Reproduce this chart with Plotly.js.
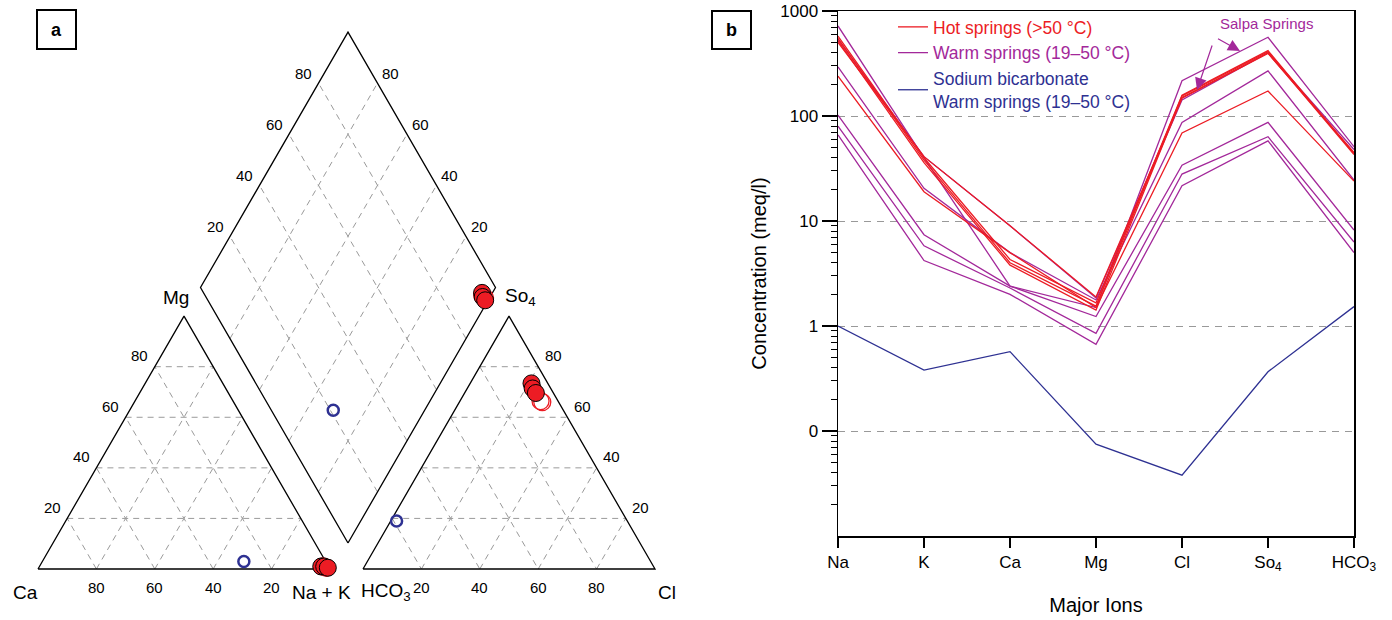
<!DOCTYPE html>
<html><head><meta charset="utf-8">
<script src="https://cdn.plot.ly/plotly-3.0.1.min.js"></script>
<style>html,body{margin:0;padding:0;background:#fff}#chart{width:1392px;height:620px}</style>
</head><body><div id="chart"></div>
<script>
// ================= DATA =================
// Panel b: Schoeller diagram, concentrations in meq/l
const ions = ['Na', 'K', 'Ca', 'Mg', 'Cl', 'SO4', 'HCO3'];
const ionLabels = ['Na', 'K', 'Ca', 'Mg', 'Cl', 'So<sub>4</sub>', 'HCO<sub>3</sub>'];
// Hot springs (>50 °C)
const hot1 = [578, 40, 4.3, 1.66, 158, 419, 44];
const hot2 = [549, 38, 4.0, 1.55, 155, 410, 44];
const hot3 = [521, 36, 3.8, 1.42, 150, 400, 43];
const hot4 = [503, 41, 9.0, 1.89, 148, 395, 45];
const hot5 = [240, 19, 5.0, 1.50, 69, 173, 24];
// Warm springs (19–50 °C)
const warm1 = [720, 40, 2.4, 1.50, 217, 562, 51];
const warm2 = [540, 41, 9.0, 1.85, 142, 400, 48];
const warm3 = [293, 20.5, 5.0, 1.77, 87, 269, 24.5];
const warm4 = [102, 7.4, 2.4, 1.23, 34, 87, 8.2];
const warm5 = [80, 5.8, 2.3, 0.85, 28, 63.5, 6.3];
const warm6 = [66, 4.2, 2.0, 0.67, 21.7, 58, 5.0];
// Sodium bicarbonate warm spring
const bicarb1 = [1.0, 0.38, 0.57, 0.075, 0.038, 0.367, 1.53];
const yTickVals = [0.1, 1, 10, 100, 1000];
const yTickText = ['0', '1', '10', '100', '1000'];

// Panel a: Piper diagram, percentages of meq
const hotCa = [2.5, 1.5, 0.5], hotMg = [1.0, 1.0, 0.5], hotNaK = [96.5, 97.5, 99.0];
const hotHCO3 = [5.6, 6.2, 6.0], hotCl = [21.0, 22.4, 24.4], hotSO4 = [73.4, 71.4, 69.6];
const warmCa = [2.0, 1.0], warmMg = [1.0, 0.5], warmNaK = [97.0, 98.5];
const warmHCO3 = [6.0, 5.6], warmCl = [27.6, 28.4], warmSO4 = [66.4, 66.0];
const bicCa = [28], bicMg = [3], bicNaK = [69];
const bicHCO3 = [79], bicCl = [2], bicSO4 = [19];
const gridPct = [20, 40, 60, 80];

// ================= STYLE / GEOMETRY =================
const RED = '#ec1c24', PURPLE = '#a3289a', BLUE = '#2e3192';
const FONT = 'Liberation Sans, Arial, Helvetica, sans-serif';
const W = 1392, Hh = 620;
// Piper geometry in panel-a units (1 unit = 1 px)
const S = 292, TH = S * Math.sqrt(3) / 2;
const catO = [38, 569], anO = [363, 569];
const DS = 295, DH = DS * Math.sqrt(3) / 2;
const dB = [348, 543], dR = [348 + DS / 2, 543 - DH], dL = [348 - DS / 2, 543 - DH], dT = [348, 543 - 2 * DH];

function catXY(ca, mg, nak) { return [catO[0] + S * (nak / 100 + mg / 200), catO[1] - TH * mg / 100]; }
function anXY(hco3, cl, so4) { return [anO[0] + S * (cl / 100 + so4 / 200), anO[1] - TH * so4 / 100]; }
function diaPQ(p, q) { return [dB[0] + p * (dR[0] - dB[0]) + q * (dL[0] - dB[0]), dB[1] + p * (dR[1] - dB[1]) + q * (dL[1] - dB[1])]; }
function diaXY(ca, mg, cl, so4) { return diaPQ((cl + so4) / 100, (ca + mg) / 100); }

const traces = [];
function seg(pts, dash, color, width) {
  traces.push({ x: pts.map(p => p[0]), y: pts.map(p => p[1]), xaxis: 'x2', yaxis: 'y2', mode: 'lines',
    line: { color: color, width: width, dash: dash }, hoverinfo: 'skip', showlegend: false });
}
const GC = '#9a9a9a', GD = '6px,5px';
// grids
gridPct.forEach(k => {
  seg([catXY(100 - k, k, 0), catXY(0, k, 100 - k)], GD, GC, 1);
  seg([catXY(k, 0, 100 - k), catXY(k, 100 - k, 0)], GD, GC, 1);
  seg([catXY(100 - k, 0, k), catXY(0, 100 - k, k)], GD, GC, 1);
  seg([anXY(100 - k, 0, k), anXY(0, 100 - k, k)], GD, GC, 1);
  seg([anXY(k, 0, 100 - k), anXY(k, 100 - k, 0)], GD, GC, 1);
  seg([anXY(100 - k, k, 0), anXY(0, k, 100 - k)], GD, GC, 1);
  seg([diaPQ(k / 100, 0), diaPQ(k / 100, 1)], GD, GC, 1);
  seg([diaPQ(0, k / 100), diaPQ(1, k / 100)], GD, GC, 1);
});
// outlines
seg([catXY(100, 0, 0), catXY(0, 0, 100), catXY(0, 100, 0), catXY(100, 0, 0)], 'solid', '#000', 1.3);
seg([anXY(100, 0, 0), anXY(0, 100, 0), anXY(0, 0, 100), anXY(100, 0, 0)], 'solid', '#000', 1.3);
seg([dB, dR, dT, dL, dB], 'solid', '#000', 1.3);

function piperPts(ca, mg, nak, hco3, cl, so4) {
  const xs = [], ys = [];
  ca.forEach((_, i) => {
    [catXY(ca[i], mg[i], nak[i]), anXY(hco3[i], cl[i], so4[i]), diaXY(ca[i], mg[i], cl[i], so4[i])].forEach(p => { xs.push(p[0]); ys.push(p[1]); });
  });
  return { xs, ys };
}
let pp = piperPts(warmCa, warmMg, warmNaK, warmHCO3, warmCl, warmSO4);
traces.push({ x: pp.xs, y: pp.ys, xaxis: 'x2', yaxis: 'y2', mode: 'markers', showlegend: false, hoverinfo: 'skip',
  marker: { size: 17, color: 'rgba(255,255,255,0)', line: { color: RED, width: 1.3 } } });
pp = piperPts(hotCa, hotMg, hotNaK, hotHCO3, hotCl, hotSO4);
traces.push({ x: pp.xs, y: pp.ys, xaxis: 'x2', yaxis: 'y2', mode: 'markers', showlegend: false, hoverinfo: 'skip',
  marker: { size: 17, color: RED, line: { color: '#000', width: 1 } } });
pp = piperPts(bicCa, bicMg, bicNaK, bicHCO3, bicCl, bicSO4);
traces.push({ x: pp.xs, y: pp.ys, xaxis: 'x2', yaxis: 'y2', mode: 'markers', showlegend: false, hoverinfo: 'skip',
  marker: { size: 11, color: 'rgba(255,255,255,0)', line: { color: BLUE, width: 2.5 } } });

// Panel b lines
function sline(vals, color, group, name, show, rank) {
  traces.push({ x: ions, y: vals, xaxis: 'x', yaxis: 'y', mode: 'lines', line: { color: color, width: 1.3 },
    legendgroup: group, name: name, showlegend: show, legendrank: rank, hoverinfo: 'x+y' });
}
const warmName = "<span style='color:" + PURPLE + "'>Warm springs (19–50 °C)</span>";
const hotName = "<span style='color:" + RED + "'>Hot springs (>50 °C)</span>";
const bicName = "<span style='color:" + BLUE + "'>Sodium bicarbonate<br>Warm springs (19–50 °C)</span>";
[warm1, warm2, warm3, warm4, warm5, warm6].forEach((s, i) => sline(s, PURPLE, 'warm', warmName, i === 0, 2));
[hot1, hot2, hot3, hot4, hot5].forEach((s, i) => sline(s, RED, 'hot', hotName, i === 0, 1));
sline(bicarb1, BLUE, 'bic', bicName, true, 3);

// minor ticks on log axis
const minorVals = [];
[0.01, 0.1, 1, 10, 100].forEach(d => { for (let m = 2; m <= 9; m++) minorVals.push(d * m); });

// ================= ANNOTATIONS =================
const ann = [];
function txt(x, y, t, size, opts) {
  ann.push(Object.assign({ x: x, y: y, xref: 'x2', yref: 'y2', text: t, showarrow: false,
    font: { family: FONT, size: size, color: '#000' }, xanchor: 'center', yanchor: 'middle' }, opts || {}));
}
gridPct.forEach(k => {
  let p = catXY(k, 0, 100 - k); txt(p[0], p[1] + 18, String(k), 15);
  p = catXY(100 - k, k, 0); txt(p[0] - 15, p[1] - 11, String(k), 15);
  p = anXY(100 - k, k, 0); txt(p[0], p[1] + 18, String(k), 15);
  p = anXY(0, 100 - k, k); txt(p[0] + 15, p[1] - 11, String(k), 15);
  p = [dL[0] + k / 100 * (dT[0] - dL[0]), dL[1] + k / 100 * (dT[1] - dL[1])]; txt(p[0] - 15, p[1] - 10, String(k), 15);
  p = [dR[0] + k / 100 * (dT[0] - dR[0]), dR[1] + k / 100 * (dT[1] - dR[1])]; txt(p[0] + 13, p[1] - 10, String(k), 15);
});
txt(25, 592, 'Ca', 19);
txt(321, 592, 'Na + K', 19);
txt(386, 592, 'HCO<sub>3</sub>', 19);
txt(667, 592, 'Cl', 19);
txt(176, 297, 'Mg', 19);
txt(503, 297, 'So<sub>4</sub>', 19, { xanchor: 'left' });

// panel letters
ann.push({ x: 56.5 / W, y: 1 - 29.5 / Hh, xref: 'paper', yref: 'paper', text: '<b>a</b>', showarrow: false,
  font: { family: FONT, size: 18, color: '#000' }, xanchor: 'center', yanchor: 'middle' });
ann.push({ x: 731.5 / W, y: 1 - 30 / Hh, xref: 'paper', yref: 'paper', text: '<b>b</b>', showarrow: false,
  font: { family: FONT, size: 18, color: '#000' }, xanchor: 'center', yanchor: 'middle' });
// Salpa Springs
ann.push({ x: 1266 / W, y: 1 - 24 / Hh, xref: 'paper', yref: 'paper', text: 'Salpa Springs', showarrow: false,
  font: { family: FONT, size: 15, color: PURPLE }, xanchor: 'center', yanchor: 'middle' });
ann.push({ x: 1240 / W, y: 1 - 51 / Hh, xref: 'paper', yref: 'paper', text: ' ', showarrow: true,
  ax: -25, ay: -14, arrowhead: 2, arrowsize: 2, arrowwidth: 1.2, arrowcolor: PURPLE, standoff: 0 });
ann.push({ x: 1197 / W, y: 1 - 90 / Hh, xref: 'paper', yref: 'paper', text: ' ', showarrow: true,
  ax: 18, ay: -53, arrowhead: 2, arrowsize: 2, arrowwidth: 1.2, arrowcolor: PURPLE, standoff: 0 });

const shapes = [
  { type: 'rect', xref: 'paper', yref: 'paper', x0: 37 / W, x1: 76 / W, y0: 1 - 49 / Hh, y1: 1 - 10 / Hh, line: { color: '#000', width: 2 } },
  { type: 'rect', xref: 'paper', yref: 'paper', x0: 712 / W, x1: 751 / W, y0: 1 - 49 / Hh, y1: 1 - 11 / Hh, line: { color: '#000', width: 2 } }
];

const layout = {
  width: W, height: Hh, margin: { l: 0, r: 0, t: 0, b: 0 },
  paper_bgcolor: '#fff', plot_bgcolor: 'rgba(0,0,0,0)',
  font: { family: FONT, color: '#000' },
  showlegend: true,
  legend: { x: 893 / W, y: 1 - 9 / Hh, xanchor: 'left', yanchor: 'top', bgcolor: 'rgba(0,0,0,0)',
    font: { family: FONT, size: 17.5 }, itemwidth: 30, tracegroupgap: 0 },
  xaxis: { domain: [838 / W, 1354 / W], anchor: 'y', type: 'category', range: [0, 6],
    tickvals: ions, ticktext: ionLabels, ticks: 'outside', ticklen: 10, tickwidth: 1.2, tickcolor: '#000',
    showline: true, mirror: true, linecolor: '#000', linewidth: 1.5, showgrid: false, zeroline: false,
    tickfont: { family: FONT, size: 17 },
    title: { text: 'Major Ions', font: { family: FONT, size: 20 }, standoff: 24 } },
  yaxis: { domain: [1 - 536 / Hh, 1 - 11 / Hh], anchor: 'x', type: 'log', range: [-2, 3],
    tickmode: 'array', tickvals: yTickVals, ticktext: yTickText, ticks: 'outside', ticklen: 15, tickwidth: 1.2, tickcolor: '#000',
    minor: { tickmode: 'array', tickvals: minorVals, ticks: 'outside', ticklen: 6, tickwidth: 1, tickcolor: '#000', showgrid: false },
    showline: true, mirror: true, linecolor: '#000', linewidth: 1.5,
    showgrid: true, gridcolor: '#999', griddash: '7px,6px', gridwidth: 1, zeroline: false,
    tickfont: { family: FONT, size: 17 },
    title: { text: 'Concentration (meq/l)', font: { family: FONT, size: 20 }, standoff: 8 } },
  xaxis2: { domain: [0, 696 / W], anchor: 'y2', range: [0, 696], visible: false, fixedrange: true },
  yaxis2: { domain: [0, 1], anchor: 'x2', range: [620, 0], visible: false, fixedrange: true },
  annotations: ann, shapes: shapes
};

Plotly.newPlot('chart', traces, layout, { displayModeBar: false, staticPlot: true });
</script></body></html>
